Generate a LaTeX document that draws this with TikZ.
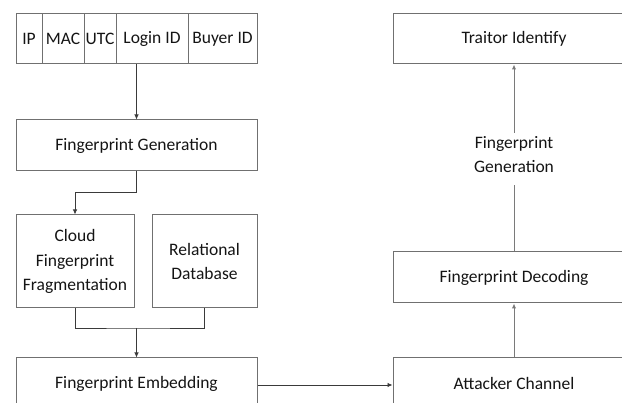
\documentclass[tikz,border=0pt]{standalone}
\usepackage{fontspec}
\setmainfont{Carlito}
\usetikzlibrary{arrows.meta}
\definecolor{boxline}{HTML}{707070}
\definecolor{arrline}{HTML}{3A3A3A}
\definecolor{arrgray}{HTML}{7A7A7A}
\definecolor{txt}{HTML}{141414}
\tikzset{
  box/.style={draw=boxline, line width=1pt, rectangle, inner sep=0pt, text=txt, font=\fontsize{17.5}{24.5}\selectfont, align=center},
  lbl/.style={inner sep=0pt, text=txt, font=\fontsize{17.5}{24}\selectfont, align=center},
  conn/.style={draw=arrline, line width=0.8pt},
  arr/.style={conn, -{Latex[length=5pt,width=4.5pt]}},
  garr/.style={draw=arrgray, line width=1pt, -{Latex[length=5pt,width=4.5pt]}}
}
\begin{document}
\begin{tikzpicture}[x=1pt,y=-1pt]
\useasboundingbox (0,0) rectangle (622,403);
% top field row
\node[box, minimum width=26pt, minimum height=50pt] (ip) at (29,39) {IP};
\node[box, minimum width=42pt, minimum height=50pt] (mac) at (63,39) {MAC};
\node[box, minimum width=32pt, minimum height=50pt] (utc) at (100,39) {UTC};
\node[box, minimum width=72pt, minimum height=50pt] (login) at (152,39) {Login ID};
\node[box, minimum width=69pt, minimum height=50pt] (buyer) at (222.5,39) {Buyer ID};
% left column
\node[box, minimum width=241pt, minimum height=51pt] (fg) at (136.5,145.5) {Fingerprint Generation};
\node[box, minimum width=118pt, minimum height=93pt] (cloud) at (75,261.5) {Cloud\\Fingerprint\\Fragmentation};
\node[box, minimum width=105pt, minimum height=93pt] (rel) at (204.5,261.5) {Relational\\Database};
\node[box, minimum width=241pt, minimum height=51pt] (emb) at (136.5,383.5) {Fingerprint Embedding};
% right column
\node[box, minimum width=242pt, minimum height=51pt] (att) at (514,383.5) {Attacker Channel};
\node[box, minimum width=242pt, minimum height=51pt] (dec) at (514,277.5) {Fingerprint Decoding};
\node[lbl, minimum height=52pt] (fg2) at (514,155) {Fingerprint\\Generation};
\node[box, minimum width=242pt, minimum height=50pt] (tr) at (514,39) {Traitor Identify};
% connectors
\draw[arr] (fg.north |- login.south) -- (fg.north);
\draw[conn] (fg.south) -- ++(0,21) coordinate (k);
\draw[arr] (k) -| (cloud.north);
\coordinate (j) at (136.5,328);
\draw[conn] (cloud.south) |- (j) -| (rel.south);
\draw[arr] (j) -- (emb.north);
\draw[arr] ([yshift=-1.5pt]emb.east) -- ([yshift=-1.5pt]att.west);
\draw[garr] (att.north) -- (dec.south);
\draw[draw=arrgray, line width=1pt] (dec.north) -- ([yshift=-4pt]fg2.south);
\draw[garr] ([yshift=-4pt]fg2.north) -- (tr.south);
\end{tikzpicture}
\end{document}
